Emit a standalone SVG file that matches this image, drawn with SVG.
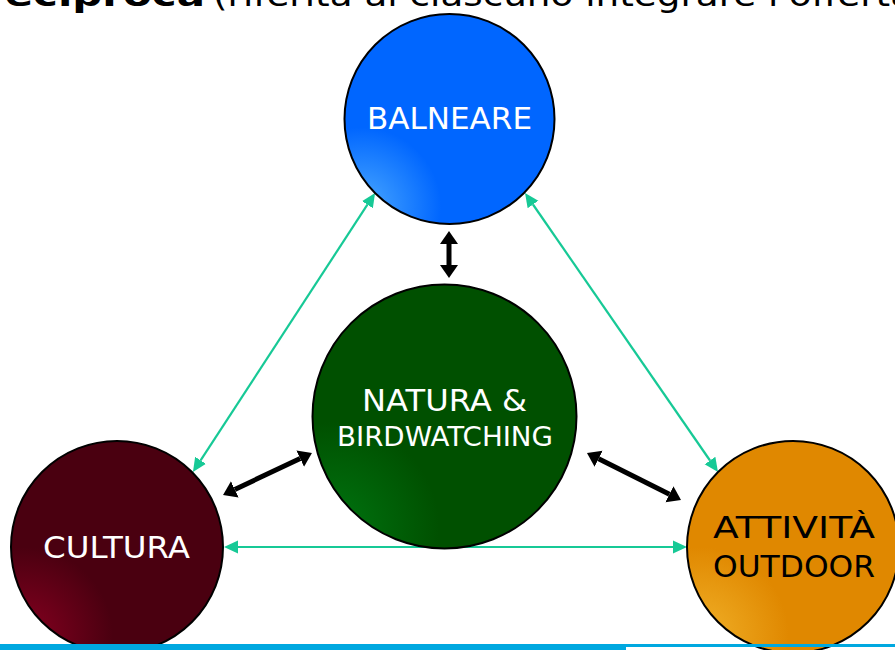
<svg xmlns="http://www.w3.org/2000/svg" width="895" height="650" viewBox="0 0 895 650">
<style>
.node{stroke:#000;stroke-width:2}
.lbl{font-family:"Comic Sans MS","DejaVu Sans",sans-serif;text-anchor:middle}
.teal{stroke:#17c996;stroke-width:2.2;fill:none}
.blk{stroke:#000;stroke-width:5;fill:none}
.hdr{font-family:"DejaVu Sans","Noto Sans",sans-serif;font-size:32px;fill:#000}
</style>
<defs>
<radialGradient id="gBlue" cx="8%" cy="92%" r="38%" fx="8%" fy="92%">
<stop offset="0" stop-color="#4aa8ff"/><stop offset="1" stop-color="#0066ff"/>
</radialGradient>
<radialGradient id="gGreen" cx="8%" cy="92%" r="40%" fx="8%" fy="92%">
<stop offset="0" stop-color="#007410"/><stop offset="1" stop-color="#005000"/>
</radialGradient>
<radialGradient id="gRed" cx="6%" cy="92%" r="42%" fx="6%" fy="92%">
<stop offset="0" stop-color="#860020"/><stop offset="1" stop-color="#4a0010"/>
</radialGradient>
<radialGradient id="gOrange" cx="6%" cy="92%" r="42%" fx="6%" fy="92%">
<stop offset="0" stop-color="#f0b028"/><stop offset="1" stop-color="#e08800"/>
</radialGradient>
<marker id="tHead" markerUnits="userSpaceOnUse" markerWidth="16" markerHeight="16" viewBox="0 -8 16 16" refX="0" refY="0" orient="auto-start-reverse">
<path d="M0,-6.5 L14,0 L0,6.5 z" fill="#17c996"/>
</marker>
<marker id="bHead" markerUnits="userSpaceOnUse" markerWidth="16" markerHeight="20" viewBox="0 -10 16 20" refX="0" refY="0" orient="auto-start-reverse">
<path d="M0,-9 L13,0 L0,9 z" fill="#000"/>
</marker>
</defs>
<rect width="895" height="650" fill="#fff"/>
<text class="hdr" y="6"><tspan x="-16" font-weight="bold" textLength="221" lengthAdjust="spacingAndGlyphs">reciproca</tspan><tspan x="213" textLength="700" lengthAdjust="spacingAndGlyphs">(riferita al ciascuno integrare l'offerta</tspan></text>
<g id="connectors">
<line class="teal" x1="367.4" y1="204.7" x2="200.6" y2="460.3" marker-start="url(#tHead)" marker-end="url(#tHead)"/>
<line class="teal" x1="533" y1="204.5" x2="710" y2="460.5" marker-start="url(#tHead)" marker-end="url(#tHead)"/>
<line class="teal" x1="238" y1="547" x2="673" y2="547" marker-start="url(#tHead)" marker-end="url(#tHead)"/>
<line class="blk" x1="449" y1="244" x2="449" y2="265" marker-start="url(#bHead)" marker-end="url(#bHead)"/>
<line class="blk" x1="234.8" y1="489.4" x2="300.2" y2="458.6" marker-start="url(#bHead)" marker-end="url(#bHead)"/>
<line class="blk" x1="598.6" y1="458.8" x2="669.4" y2="494.2" marker-start="url(#bHead)" marker-end="url(#bHead)"/>
</g>
<g id="balneare">
<circle class="node" cx="449.5" cy="119" r="105" fill="url(#gBlue)"/>
<text class="lbl" x="449.5" y="129" font-size="31" fill="#fff" textLength="165" lengthAdjust="spacingAndGlyphs">BALNEARE</text>
</g>
<g id="natura">
<circle class="node" cx="444.5" cy="416.5" r="132" fill="url(#gGreen)"/>
<text class="lbl" x="444.5" y="411" font-size="31" fill="#fff" textLength="165" lengthAdjust="spacingAndGlyphs">NATURA &amp;</text>
<text class="lbl" x="445" y="446" font-size="27" fill="#fff" textLength="216" lengthAdjust="spacingAndGlyphs">BIRDWATCHING</text>
</g>
<g id="cultura">
<circle class="node" cx="117" cy="547" r="106" fill="url(#gRed)"/>
<text class="lbl" x="116.5" y="558" font-size="31" fill="#fff" textLength="147" lengthAdjust="spacingAndGlyphs">CULTURA</text>
</g>
<g id="attivita">
<circle class="node" cx="793" cy="547" r="106" fill="url(#gOrange)"/>
<text class="lbl" x="794" y="538" font-size="31" fill="#000" textLength="162" lengthAdjust="spacingAndGlyphs">ATTIVITÀ</text>
<text class="lbl" x="794" y="577" font-size="31" fill="#000" textLength="162" lengthAdjust="spacingAndGlyphs">OUTDOOR</text>
</g>
<rect x="0" y="644" width="626" height="6" fill="#00a8e0"/>
<rect x="626" y="644" width="269" height="3" fill="#00a8e0"/>
</svg>
